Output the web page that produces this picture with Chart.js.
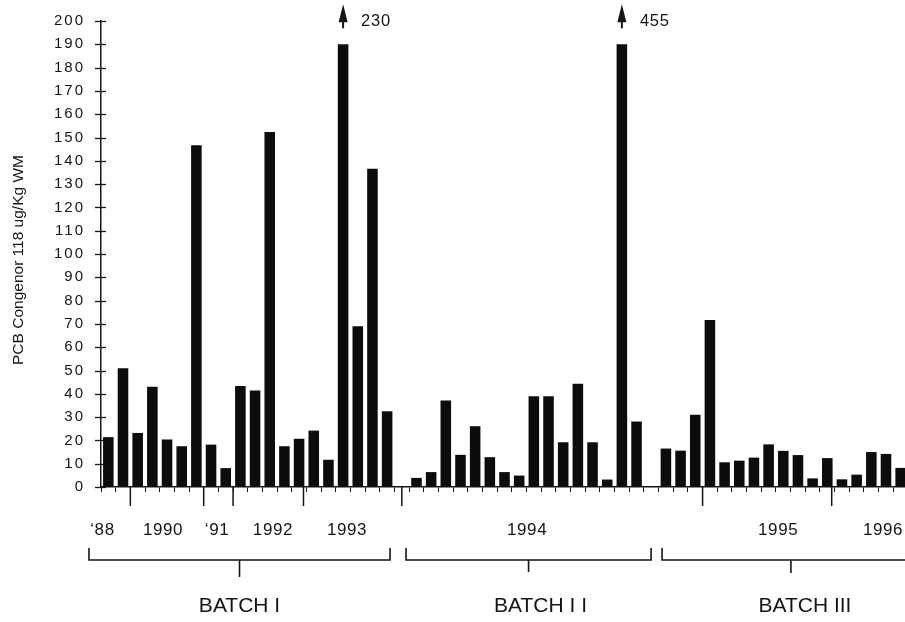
<!DOCTYPE html>
<html>
<head>
<meta charset="utf-8">
<script src="https://cdn.jsdelivr.net/npm/chart.js@4.4.1/dist/chart.umd.min.js"></script>
<style>
  html, body { margin: 0; padding: 0; background: #fff; overflow: hidden; }
  #wrap { position: relative; width: 910px; height: 622px; }
</style>
</head>
<body>
<div id="wrap"><canvas id="pcbChart"></canvas></div>
<script>
// PCB congener 118 (ug/Kg WM) per sample, in the three analysis batches
const batch1Values = [21.4, 51, 23.2, 43, 20.4, 17.5, 146.7, 18.2, 8.1, 43.3, 41.4, 152.4, 17.5, 20.7, 24.2, 11.7, 230, 69, 136.6, 32.5];
const batch2Values = [3.9, 6.4, 37.1, 13.8, 26.1, 12.8, 6.4, 4.9, 39, 39, 19.2, 44.3, 19.2, 3.2, 455, 28.1];
const batch3Values = [16.5, 15.6, 31, 71.7, 10.6, 11.3, 12.6, 18.3, 15.5, 13.7, 3.7, 12.4, 3.3, 5.3, 15, 14.2, 8.2];
const batchNames = ['BATCH I', 'BATCH I I', 'BATCH III'];

// year captions under the axis, and the sample slot each one sits over
const yearLabels = ['\u201888', '1990', '\u201891', '1992', '1993', '1994', '1995', '1996'];
const yearLabelAt = [-0.4, 3.73, 7.41, 11.22, 16.27, 28.54, 45.65, 52.8];
// slot boundaries where a new year starts (long ticks)
const yearBreaks = [2, 7, 9, 13.8, 20.5, 41, 49.8];

const yMin = 0;
const yMax = 200;
const yStep = 10;
// bars higher than this are cut off and get an arrow with the real value
const breakValue = 190;

const INK = '#151515';
const FONT = '"Liberation Sans", Arial, Helvetica, sans-serif';

// one empty slot between batches
const values = [...batch1Values, null, ...batch2Values, null, ...batch3Values];
const plotted = values.map(v => v === null ? null : Math.min(v, breakValue));
const slots = values.map((v, i) => 'S' + (i + 1));

const annotations = {
    id: 'annotations',
    beforeDraw(chart) {
        // the scanned tick numbers are widely spaced
        chart.ctx.letterSpacing = '2px';
    },
    afterDraw(chart) {
        const ctx = chart.ctx;
        const x = chart.scales.x;
        const y = chart.scales.y;
        const edge = k => x.getPixelForValue(k - 0.5);
        const base = y.bottom;

        ctx.save();
        ctx.letterSpacing = '0px';
        ctx.strokeStyle = INK;
        ctx.fillStyle = INK;

        // cross ticks on the y axis
        ctx.lineWidth = 1.3;
        for (let v = yMin; v <= yMax; v += yStep) {
            const py = Math.round(y.getPixelForValue(v)) + 0.5;
            ctx.beginPath();
            ctx.moveTo(y.right - 6, py);
            ctx.lineTo(y.right + 5, py);
            ctx.stroke();
        }

        // long ticks where the year changes
        ctx.lineWidth = 1.5;
        yearBreaks.forEach(k => {
            const px = edge(k);
            ctx.beginPath();
            ctx.moveTo(px, base);
            ctx.lineTo(px, base + 19);
            ctx.stroke();
        });

        // year captions
        ctx.font = '17px ' + FONT;
        ctx.letterSpacing = '0.6px';
        ctx.textAlign = 'center';
        ctx.textBaseline = 'middle';
        yearLabels.forEach((lab, i) => {
            ctx.fillText(lab, x.getPixelForValue(yearLabelAt[i]), base + 43);
        });

        // batch brackets
        const brackets = [
            { from: -0.82, to: 19.7, shift: 0, stem: 17 },
            { from: 20.79, to: 37.49, shift: 12, stem: 12 },
            { from: 38.24, to: 55.8, shift: 14, stem: 13 }
        ];
        const top = base + 61;
        const bar = base + 73;
        ctx.lineWidth = 1.6;
        ctx.letterSpacing = '0px';
        ctx.font = '21px ' + FONT;
        brackets.forEach((b, i) => {
            const x0 = edge(b.from);
            const x1 = edge(b.to);
            const mid = (x0 + x1) / 2;
            ctx.beginPath();
            ctx.moveTo(x0, top);
            ctx.lineTo(x0, bar);
            ctx.lineTo(x1, bar);
            ctx.lineTo(x1, top);
            ctx.moveTo(mid, bar);
            ctx.lineTo(mid, bar + b.stem);
            ctx.stroke();
            ctx.fillText(batchNames[i], mid + b.shift, base + 119);
        });

        // arrows over the bars that go off the scale
        const capY = y.getPixelForValue(breakValue);
        ctx.font = '16.5px ' + FONT;
        ctx.letterSpacing = '0.8px';
        ctx.textAlign = 'left';
        values.forEach((v, i) => {
            if (v === null || v <= breakValue) return;
            const cx = x.getPixelForValue(i);
            ctx.lineWidth = 2;
            ctx.beginPath();
            ctx.moveTo(cx, capY - 30);
            ctx.lineTo(cx, capY - 16);
            ctx.stroke();
            ctx.beginPath();
            ctx.moveTo(cx, capY - 40);
            ctx.lineTo(cx - 4.5, capY - 22);
            ctx.lineTo(cx + 4.5, capY - 22);
            ctx.closePath();
            ctx.fill();
            ctx.fillText(String(v), cx + 18, capY - 23);
        });

        // y axis title
        ctx.letterSpacing = '0px';
        ctx.font = '15.5px ' + FONT;
        ctx.textAlign = 'center';
        ctx.translate(19, (y.top + y.bottom) / 2 + 6);
        ctx.rotate(-Math.PI / 2);
        ctx.fillText('PCB Congenor 118 ug/Kg WM', 0, 0);

        ctx.restore();
    }
};

new Chart(document.getElementById('pcbChart'), {
    type: 'bar',
    data: {
        labels: slots,
        datasets: [{
            data: plotted,
            backgroundColor: '#0c0c0c',
            borderWidth: 0,
            barPercentage: 0.72,
            categoryPercentage: 1
        }]
    },
    options: {
        responsive: true,
        maintainAspectRatio: false,
        animation: false,
        layout: {
            padding: { top: 21, right: 2, left: 0, bottom: 0 }
        },
        plugins: {
            legend: { display: false },
            tooltip: { enabled: false }
        },
        scales: {
            x: {
                ticks: { display: false, autoSkip: false },
                grid: {
                    display: true,
                    drawOnChartArea: false,
                    drawTicks: true,
                    tickLength: 5,
                    color: INK,
                    lineWidth: 1,
                    offset: true
                },
                border: { display: true, color: INK, width: 1.5 },
                afterFit(scale) { scale.height = 135; }
            },
            y: {
                min: yMin,
                max: yMax,
                ticks: {
                    stepSize: yStep,
                    padding: 2,
                    color: INK,
                    font: { family: FONT, size: 15 }
                },
                // invisible tick marks only hold the labels away from the axis
                grid: {
                    display: true,
                    drawOnChartArea: false,
                    drawTicks: true,
                    tickLength: 14,
                    color: 'rgba(0,0,0,0)'
                },
                border: { display: true, color: INK, width: 1.5 },
                afterFit(scale) { scale.width = 101; }
            }
        }
    },
    plugins: [annotations]
});
</script>
</body>
</html>
